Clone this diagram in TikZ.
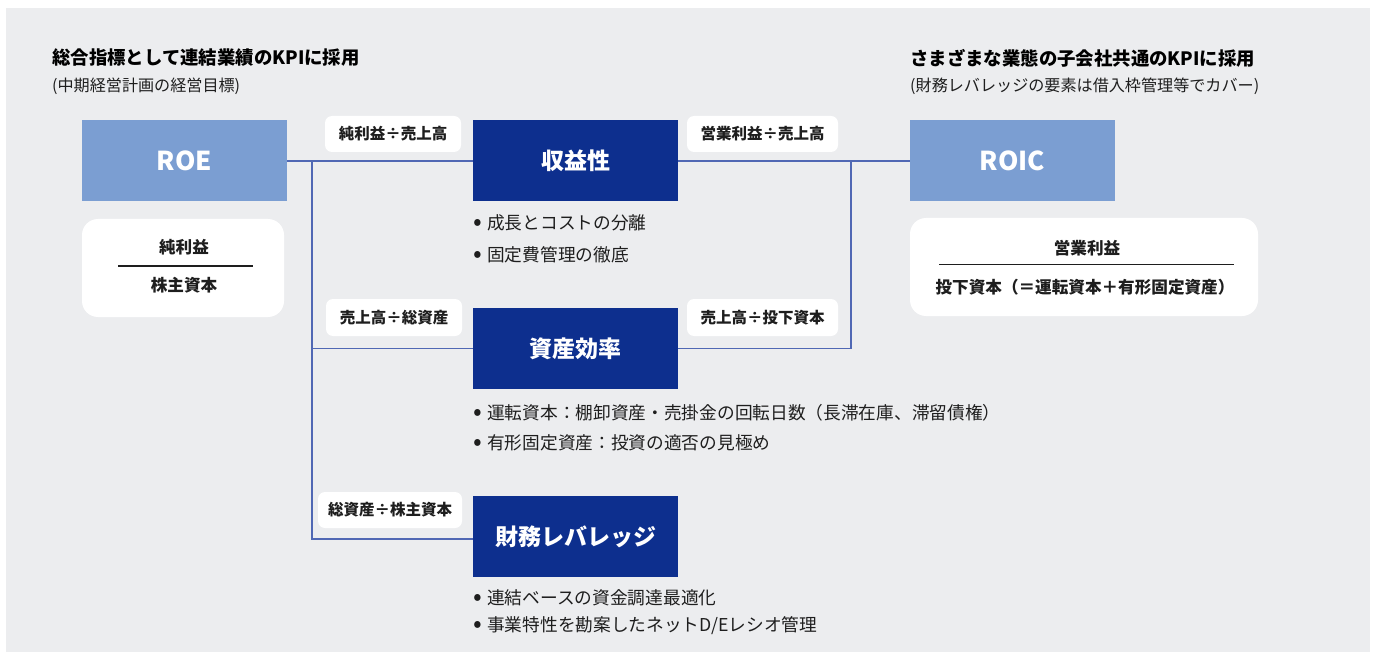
\documentclass[tikz,border=0pt]{standalone}
\usepackage{fontspec}
\usepackage{graphicx}
\setmainfont{Noto Sans CJK JP}
\definecolor{bg}{HTML}{ECEDEF}
\definecolor{lightblue}{HTML}{7B9ED2}
\definecolor{navy}{HTML}{0D2F8E}
\definecolor{conn}{HTML}{5068B4}
\definecolor{txt}{HTML}{1E1E1E}
\newcommand\myfs[1]{\fontsize{#1pt}{#1pt}\selectfont}
\newcommand\bul{\makebox[14pt][l]{\raisebox{-0.6pt}{\scalebox{1.45}{•}}}}
\begin{document}
\begin{tikzpicture}[x=1pt,y=-1pt,
  kpi/.style={fill=lightblue, text=white, minimum width=205pt, minimum height=81pt, inner sep=0pt, font=\myfs{26}\bfseries},
  pillar/.style={fill=navy, text=white, minimum width=205pt, minimum height=81pt, inner sep=0pt, font=\myfs{23}\bfseries},
  ratio/.style={fill=white, rounded corners=7pt, minimum height=36pt, inner sep=0pt, font=\myfs{15.5}\bfseries, text=txt},
  formula/.style={fill=white, rounded corners=16pt, minimum height=98pt, inner sep=0pt},
  ftext/.style={font=\myfs{16.6}\bfseries, text=txt, inner sep=0pt},
  bitem/.style={anchor=west, inner sep=0pt, font=\myfs{17.7}, text=txt},
  heading/.style={anchor=west, inner sep=0pt, font=\myfs{18.4}\bfseries, text=black},
  subhead/.style={anchor=west, inner sep=0pt, font=\myfs{16.1}, text=txt},
  link/.style={draw=conn, line width=1.3pt},
  fline/.style={draw=txt, line width=1pt}
]
\useasboundingbox (0,0) rectangle (1375,652);
\fill[bg] (6,8) rectangle (1370,652);

% headings
\node[heading] (h1) at (52,58) {総合指標として連結業績のKPIに採用};
\node[subhead] (s1) at (52,86) {(中期経営計画の経営目標)};
\node[heading] (h2) at (910,58) {さまざまな業態の子会社共通のKPIに採用};
\node[subhead] (s2) at (910,86) {(財務レバレッジの要素は借入枠管理等でカバー)};

% main boxes
\node[kpi] (roe) at (184.5,161) {ROE};
\node[kpi] (roic) at (1012.5,161) {ROIC};
\node[pillar] (shueki) at (575.5,161) {収益性};
\node[pillar] (shisan) at (575.5,348.5) {資産効率};
\node[pillar] (zaimu) at (575.5,536.5) {財務レバレッジ};

% connectors
\coordinate (vltop) at (312,161);
\coordinate (vlbot) at (312,539);
\coordinate (vrtop) at (851,161);
\draw[link] (roe.east) -- (shueki.west);
\draw[link] (vltop) -- (vlbot) -- (vlbot -| zaimu.west);
\draw[link] (vltop |- shisan.west) -- (shisan.west);
\draw[link] (shueki.east) -- (roic.west);
\draw[link] (shisan.east) -| (vrtop);

% ratio labels
\node[ratio, minimum width=136pt] (r1) at (393,134) {純利益÷売上高};
\node[ratio, minimum width=151pt] (r2) at (762.5,134) {営業利益÷売上高};
\node[ratio, minimum width=136pt, minimum height=37pt] (r3) at (394,317.5) {売上高÷総資産};
\node[ratio, minimum width=151pt, minimum height=37pt] (r4) at (762.5,317.5) {売上高÷投下資本};
\node[ratio, minimum width=144pt] (r5) at (390,510) {総資産÷株主資本};

% formula boxes
\node[formula, minimum width=202pt] (roef) at (183,268) {};
\node[ftext] (roen) at (184,247) {純利益};
\node[ftext] (roed) at (184,285) {株主資本};
\coordinate (fa1) at (118,266);
\coordinate (fb1) at (253,266);
\draw[fline] (fa1) -- (fb1);

\node[formula, minimum width=348pt] (roicf) at (1084,267) {};
\node[ftext] (roicn) at (1087,248) {営業利益};
\node[ftext] (roicd) at (1085,287) {投下資本（＝運転資本＋有形固定資産）};
\coordinate (fa2) at (939,265);
\coordinate (fb2) at (1234,265);
\draw[fline] (fa2) -- (fb2);

% bullets
\node[bitem] (b11) at (473,223) {\bul 成長とコストの分離};
\node[bitem] (b12) at (473,255) {\bul 固定費管理の徹底};
\node[bitem] (b21) at (473,413) {\bul 運転資本：棚卸資産・売掛金の回転日数（長滞在庫、滞留債権）};
\node[bitem] (b22) at (473,443) {\bul 有形固定資産：投資の適否の見極め};
\node[bitem] (b31) at (473,598) {\bul 連結ベースの資金調達最適化};
\node[bitem] (b32) at (473,626) {\bul 事業特性を勘案したネットD/Eレシオ管理};
\end{tikzpicture}
\end{document}
